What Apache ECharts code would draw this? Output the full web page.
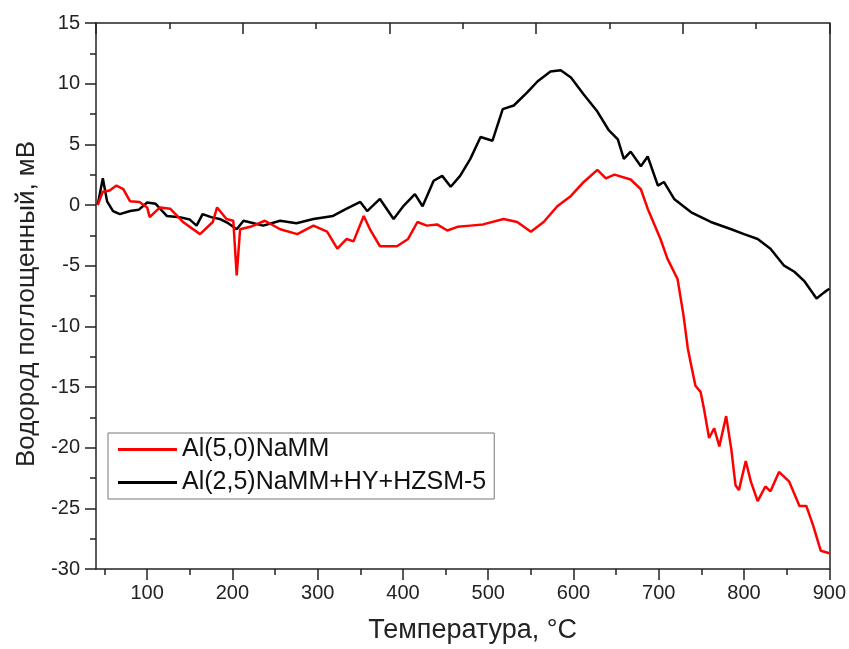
<!DOCTYPE html>
<html>
<head>
<meta charset="utf-8">
<script src="https://cdn.jsdelivr.net/npm/echarts@6/dist/echarts.min.js"></script>
<style>
  html, body { margin: 0; padding: 0; background: #fff; }
  #chart { width: 849px; height: 649px; }
</style>
</head>
<body>
<div id="chart"></div>
<script>
// Al(5,0)NaMM - red
const redT = [42, 48, 56, 64, 72, 80, 91, 100, 103, 115, 127, 142, 162, 177, 182, 193, 201, 205, 209, 221, 238, 256, 276, 295, 311, 323, 334, 342, 354, 362, 373, 393, 406, 417, 428, 440, 452, 464, 479, 494, 518, 534, 550, 565, 581, 597, 612, 628, 638, 648, 667, 679, 687, 702, 710, 722, 729, 734, 738, 743, 749, 753, 759, 765, 771, 779, 785, 790, 794, 802, 808, 816, 825, 831, 841, 853, 865, 873, 881, 890, 900];
const redV = [0, 1.1, 1.2, 1.6, 1.3, 0.3, 0.25, -0.2, -1, -0.2, -0.3, -1.4, -2.4, -1.4, -0.2, -1.15, -1.3, -5.8, -2, -1.8, -1.3, -2, -2.4, -1.7, -2.2, -3.6, -2.8, -3, -0.9, -2.1, -3.4, -3.4, -2.8, -1.4, -1.7, -1.6, -2.1, -1.8, -1.7, -1.6, -1.15, -1.4, -2.2, -1.4, -0.1, 0.75, 1.9, 2.9, 2.2, 2.5, 2.1, 1.3, -0.3, -2.8, -4.4, -6.1, -9.1, -11.8, -13.2, -14.9, -15.4, -16.8, -19.2, -18.4, -19.9, -17.4, -20.1, -23.1, -23.5, -21.1, -22.8, -24.4, -23.2, -23.6, -22, -22.8, -24.8, -24.8, -26.4, -28.5, -28.7];

// Al(2,5)NaMM+HY+HZSM-5 - black
const blackT = [42, 48, 53, 60, 68, 80, 90, 100, 110, 123, 138, 150, 158, 165, 175, 185, 195, 205, 213, 225, 236, 256, 275, 295, 318, 334, 350, 358, 373, 389, 401, 414, 423, 436, 446, 456, 467, 479, 491, 505, 517, 530, 546, 558, 573, 585, 597, 612, 628, 641, 652, 659, 667, 679, 687, 699, 706, 718, 738, 761, 785, 800, 816, 831, 847, 859, 871, 885, 894, 900];
const blackV = [0, 2.2, 0.3, -0.5, -0.75, -0.5, -0.4, 0.2, 0.1, -0.9, -1, -1.2, -1.7, -0.75, -1, -1.15, -1.5, -2, -1.3, -1.5, -1.7, -1.3, -1.5, -1.15, -0.9, -0.3, 0.25, -0.5, 0.5, -1.15, -0.05, 0.9, -0.1, 2.0, 2.4, 1.5, 2.4, 3.8, 5.6, 5.3, 7.9, 8.2, 9.3, 10.2, 11.0, 11.1, 10.5, 9.1, 7.7, 6.2, 5.4, 3.8, 4.4, 3.2, 4.0, 1.6, 1.9, 0.5, -0.6, -1.4, -2.0, -2.4, -2.8, -3.6, -5.0, -5.5, -6.3, -7.7, -7.2, -6.9];

const xMajor = [100, 200, 300, 400, 500, 600, 700, 800, 900];
const xMinor = [50, 150, 250, 350, 450, 550, 650, 750, 850];

const names = ['Al(5,0)NaMM', 'Al(2,5)NaMM+HY+HZSM-5'];

const font = '"Liberation Sans", Arial, sans-serif';
const axisColor = '#222';

const chart = echarts.init(document.getElementById('chart'));

chart.setOption({
    animation: false,
    textStyle: { fontFamily: font },
    grid: { left: 96, right: 19, top: 23, bottom: 79 },
    legend: {
        data: names,
        orient: 'vertical',
        left: 108,
        top: 433,
        padding: [4, 8, 4, 10],
        itemGap: 8,
        itemWidth: 59,
        itemHeight: 3,
        icon: 'rect',
        borderColor: '#777',
        borderWidth: 1,
        textStyle: { fontSize: 25, color: '#111', fontFamily: font }
    },
    xAxis: [{
        type: 'value',
        min: 40,
        max: 900,
        position: 'bottom',
        name: 'Температура, °C',
        nameLocation: 'middle',
        nameGap: 48,
        nameTextStyle: { fontSize: 27, color: '#222', fontFamily: font, padding: [0, 0, 0, 20] },
        axisLine: { onZero: false, lineStyle: { color: axisColor, width: 1.5 } },
        axisTick: { customValues: xMajor, length: 11, lineStyle: { color: axisColor, width: 1.5 } },
        axisLabel: { customValues: xMajor, fontSize: 20, color: '#222', margin: 14 },
        splitLine: { show: false }
    }, {
        type: 'value',
        min: 40,
        max: 900,
        position: 'bottom',
        axisLine: { show: false, onZero: false },
        axisTick: { customValues: xMinor, length: 6, lineStyle: { color: axisColor, width: 1.5 } },
        axisLabel: { show: false },
        splitLine: { show: false }
    }, {
        type: 'value',
        min: 0,
        max: 10,
        interval: 2,
        position: 'top',
        axisLine: { onZero: false, lineStyle: { color: axisColor, width: 1.5 } },
        axisTick: { inside: true, length: 11, lineStyle: { color: axisColor, width: 1.5 } },
        minorTick: { show: true, splitNumber: 2, length: 6, lineStyle: { color: axisColor, width: 1.5 } },
        axisLabel: { show: false },
        splitLine: { show: false }
    }],
    yAxis: [{
        type: 'value',
        min: -30,
        max: 15,
        interval: 5,
        position: 'left',
        name: 'Водород поглощенный, мВ',
        nameLocation: 'middle',
        nameGap: 54,
        nameTextStyle: { fontSize: 26, color: '#222', fontFamily: font, padding: [0, 16, 0, 0] },
        axisLine: { show: true, onZero: false, lineStyle: { color: axisColor, width: 1.5 } },
        axisTick: { show: true, length: 11, lineStyle: { color: axisColor, width: 1.5 } },
        minorTick: { show: true, splitNumber: 2, length: 6, lineStyle: { color: axisColor, width: 1.5 } },
        axisLabel: { fontSize: 20, color: '#222', margin: 16 },
        splitLine: { show: false }
    }, {
        type: 'value',
        min: -30,
        max: 15,
        position: 'right',
        axisLine: { show: true, onZero: false, lineStyle: { color: axisColor, width: 1.5 } },
        axisTick: { show: false },
        axisLabel: { show: false },
        splitLine: { show: false }
    }],
    series: [{
        name: names[1],
        type: 'line',
        showSymbol: false,
        symbol: 'none',
        data: blackT.map((t, i) => [t, blackV[i]]),
        lineStyle: { color: '#000', width: 2.5 },
        itemStyle: { color: '#000' }
    }, {
        name: names[0],
        type: 'line',
        showSymbol: false,
        symbol: 'none',
        data: redT.map((t, i) => [t, redV[i]]),
        lineStyle: { color: '#ff0000', width: 2.5 },
        itemStyle: { color: '#ff0000' }
    }]
});
</script>
</body>
</html>
